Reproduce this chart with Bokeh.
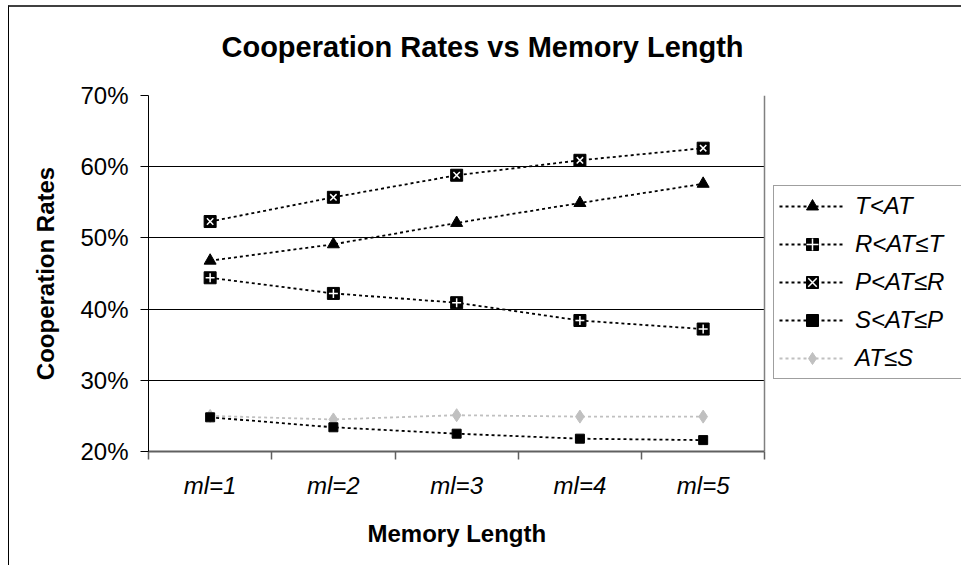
import numpy as np
from bokeh.plotting import figure
from bokeh.models import (FixedTicker, NumeralTickFormatter, Legend, LegendItem, Range1d, Grid, Title)
from bokeh.embed import file_html
from bokeh.resources import INLINE

# ---- data ----
categories = ["ml=1", "ml=2", "ml=3", "ml=4", "ml=5"]
t_lt_at = [0.468, 0.491, 0.521, 0.549, 0.576]      # T<AT
r_lt_at_le_t = [0.444, 0.422, 0.409, 0.384, 0.372]  # R<AT≤T
p_lt_at_le_r = [0.523, 0.557, 0.588, 0.609, 0.626]  # P<AT≤R
s_lt_at_le_p = [0.248, 0.234, 0.225, 0.218, 0.216]  # S<AT≤P
at_le_s = [0.250, 0.245, 0.251, 0.249, 0.249]       # AT≤S
y_ticks = [0.2, 0.3, 0.4, 0.5, 0.6, 0.7]
series_names = ["T<AT", "R<AT≤T", "P<AT≤R", "S<AT≤P", "AT≤S"]
chart_title = "Cooperation Rates vs Memory Length"
x_title = "Memory Length"
y_title = "Cooperation Rates"

FONT = "Liberation Sans"
xs = list(range(1, len(categories) + 1))
x_lo, x_hi = 0.5, len(categories) + 0.5

# layout (pixels)
W, H = 953, 560
LEFT, TOP, BOTTOM = 139, 88, 115
PLOT_W = 616.3                      # width of the data area
frame_w = W - LEFT
x_end = x_lo + (x_hi - x_lo) * frame_w / PLOT_W   # frame extends under the legend

p = figure(width=W, height=H, output_backend="svg", toolbar_location=None,
           x_range=Range1d(x_lo, x_end), y_range=Range1d(y_ticks[0], y_ticks[-1]),
           min_border_left=LEFT, min_border_right=0, min_border_top=TOP, min_border_bottom=BOTTOM,
           title=chart_title)
p.margin = (5, 0, 0, 8)
p.styles = {"border-left": "1px solid #000000", "border-top": "2px solid #404040"}

p.background_fill_color = "white"
p.border_fill_color = "white"
p.outline_line_color = None

# title
p.title.text_font = FONT
p.title.text_font_size = "29px"
p.title.text_font_style = "bold"
p.title.text_color = "black"
p.title.align = "left"
p.title.offset = 73
p.title.vertical_align = "top"
p.title.standoff = 0
p.title.padding = dict(left=0, right=0, top=0, bottom=31)

# x axis: labels at category centres, minor ticks at boundaries
xa = p.xaxis[0]
xa.bounds = (x_lo, x_hi)
xa.ticker = FixedTicker(ticks=xs, minor_ticks=[x - 0.5 for x in xs] + [x_hi])
xa.major_label_overrides = {x: c for x, c in zip(xs, categories)}
xa.major_tick_out = 0
xa.major_tick_in = 0
xa.minor_tick_out = 8
xa.minor_tick_in = 0
xa.minor_tick_line_color = "#606060"
xa.minor_tick_line_width = 1.5
xa.axis_line_color = "#606060"
xa.axis_line_width = 2
xa.major_label_text_font = FONT
xa.major_label_text_font_size = "24px"
xa.major_label_text_font_style = "italic"
xa.major_label_text_color = "black"
xa.major_label_standoff = 12

# x axis title centred under the data area
xt = Title(text=x_title, align="left", offset=219, vertical_align="top", standoff=37,
           text_font=FONT, text_font_size="24px", text_font_style="bold", text_color="black")
p.add_layout(xt, "below")

# y axis
ya = p.yaxis[0]
ya.ticker = FixedTicker(ticks=y_ticks)
ya.formatter = NumeralTickFormatter(format="0%")
ya.major_tick_out = 8
ya.major_tick_in = 0
ya.minor_tick_out = 0
ya.minor_tick_in = 0
ya.axis_line_color = "black"
ya.major_tick_line_color = "black"
ya.major_label_text_font = FONT
ya.major_label_text_font_size = "24px"
ya.major_label_text_color = "black"
ya.major_label_standoff = 12
ya.axis_label = y_title
ya.axis_label_text_font = FONT
ya.axis_label_text_font_size = "24px"
ya.axis_label_text_font_style = "bold"
ya.axis_label_text_color = "black"
ya.axis_label_standoff = 18

# grid lines limited to the data area
p.xgrid.grid_line_color = None
p.ygrid.ticker = FixedTicker(ticks=y_ticks[1:-1])
p.ygrid.grid_line_color = "black"
p.ygrid.grid_line_width = 1
p.ygrid.cross_bounds = (x_lo, x_hi)

top_border = Grid(dimension=1, ticker=FixedTicker(ticks=[y_ticks[-1]]),
                  grid_line_color="#808080", grid_line_width=1.5, cross_bounds=(x_lo, x_hi))
right_border = Grid(dimension=0, ticker=FixedTicker(ticks=[x_hi]),
                    grid_line_color="#808080", grid_line_width=1.5,
                    cross_bounds=(y_ticks[0], y_ticks[-1]))
p.add_layout(top_border)
p.add_layout(right_border)

DASH = "3 3"
LW = 1.8

# T<AT
l1 = p.line(xs, t_lt_at, line_color="black", line_dash=DASH, line_width=LW)
m1 = p.scatter(xs, t_lt_at, marker="triangle", size=12, fill_color="black", line_color="black")

# R<AT≤T
l2 = p.line(xs, r_lt_at_le_t, line_color="black", line_dash=DASH, line_width=LW)
m2a = p.scatter(xs, r_lt_at_le_t, marker="square", size=12, fill_color="black", line_color="black")
m2b = p.scatter(xs, r_lt_at_le_t, marker="cross", size=9, line_color="white", line_width=1.5)

# P<AT≤R
l3 = p.line(xs, p_lt_at_le_r, line_color="black", line_dash=DASH, line_width=LW)
m3a = p.scatter(xs, p_lt_at_le_r, marker="square", size=12, fill_color="black", line_color="black")
m3b = p.scatter(xs, p_lt_at_le_r, marker="x", size=9, line_color="white", line_width=1.5)

# AT≤S
l5 = p.line(xs, at_le_s, line_color="#c0c0c0", line_dash=DASH, line_width=LW)
m5 = p.scatter(xs, at_le_s, marker="diamond", size=13, fill_color="#c0c0c0", line_color="#c0c0c0")

# S<AT≤P
l4 = p.line(xs, s_lt_at_le_p, line_color="black", line_dash=DASH, line_width=LW)
m4 = p.scatter(xs, s_lt_at_le_p, marker="square", size=9, fill_color="black", line_color="black")

legend = Legend(items=[
    LegendItem(label=series_names[0], renderers=[l1, m1]),
    LegendItem(label=series_names[1], renderers=[l2, m2a, m2b]),
    LegendItem(label=series_names[2], renderers=[l3, m3a, m3b]),
    LegendItem(label=series_names[3], renderers=[l4, m4]),
    LegendItem(label=series_names[4], renderers=[l5, m5]),
])
legend.location = (625, 72)
legend.margin = 0
legend.padding = 5
legend.spacing = 8
legend.glyph_width = 66
legend.glyph_height = 30
legend.label_height = 30
legend.label_width = 120
legend.label_standoff = 10
legend.label_text_font = FONT
legend.label_text_font_size = "24px"
legend.label_text_font_style = "italic"
legend.label_text_color = "black"
legend.border_line_color = "#404040"
legend.border_line_width = 1
legend.background_fill_color = "white"
legend.background_fill_alpha = 1.0
p.add_layout(legend, "center")

open("out.html", "w").write(file_html(p, INLINE))
